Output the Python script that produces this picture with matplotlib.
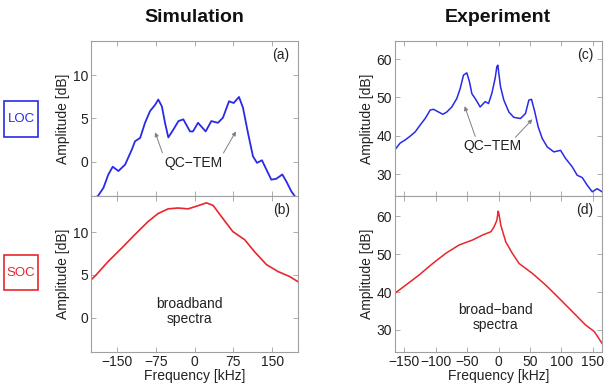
import matplotlib
matplotlib.use("Agg")
import matplotlib.pyplot as plt
from matplotlib.patches import Rectangle

plt.rcParams['font.family'] = ['Liberation Sans', 'DejaVu Sans']

# ---- data ----
sim_loc_f = [-200, -186, -176, -166.5, -158, -147, -134, -121, -115, -105, -95.6, -86,
             -76, -70, -63, -57, -50.6, -41, -31, -21.6, -8.7, -3, 1, 6.8, 21.6, 32.5,
             45.4, 55, 66.7, 75.7, 86, 93.7, 103.4, 113, 120.8, 130.4, 138.7, 148.4,
             158, 169.7, 177.4, 187, 193.6, 200]
sim_loc_a = [-4.6, -3.95, -3.06, -1.5, -0.6, -1.1, -0.35, 1.4, 2.35, 2.75, 4.5, 5.85,
             6.6, 7.2, 6.4, 4.5, 2.8, 3.7, 4.7, 4.9, 3.5, 3.5, 3.9, 4.5, 3.5, 4.7,
             4.5, 5.1, 7.0, 6.8, 7.5, 6.25, 3.3, 0.6, -0.15, 0.15, -0.9, -2.1,
             -2.0, -1.5, -2.3, -3.45, -4.0, -4.6]

sim_soc_f = [-200, -190, -167, -141, -116, -90, -70.5, -51, -32, -12.5, 3.5, 23, 36, 52,
             74, 97, 116, 139, 161, 184, 200]
sim_soc_a = [4.4, 5.0, 6.55, 8.1, 9.65, 11.2, 12.15, 12.7, 12.8, 12.7, 13.0, 13.4, 13.1,
             11.8, 10.05, 9.1, 7.7, 6.2, 5.4, 4.8, 4.2]

exp_loc_f = [-165, -156.8, -148.8, -140.8, -132.9, -124.9, -116.9, -108.9, -103.7,
             -95.7, -88.8, -82.4, -74.5, -66.5, -61.1, -55.8, -50.5, -46.3, -42.5,
             -35.6, -29.2, -21.2, -15.9, -10.7, -5.3, -2.7, -1.0, 0.5, 3.2, 8.5,
             16.5, 24.4, 35.1, 43, 48.4, 52.6, 57.9, 63.3, 69.7, 77.7, 88.2, 98.9,
             106.9, 117.5, 125.5, 133.5, 141.5, 149.4, 157.4, 165]
exp_loc_a = [36.4, 38.1, 38.9, 39.9, 41.0, 42.8, 44.5, 46.7, 46.9,
             46.2, 45.6, 46.2, 47.5, 49.7, 52.3, 55.8, 56.4, 54.1, 51.0,
             49.3, 47.5, 48.9, 48.4, 51.0, 55.0, 58.0, 58.4, 56.3, 52.8, 49.3,
             46.2, 44.8, 44.5, 45.8, 49.3, 49.5, 46.2, 42.3, 39.3, 37.1, 35.8, 36.2,
             34.1, 31.9, 29.7, 29.1, 27.1, 25.4, 26.2, 25.4]

exp_soc_f = [-165, -148, -126.5, -105, -84, -62.7, -41.5, -25.5, -12, -7, -2.6, -0.5,
             1, 3.7, 11.6, 22, 33, 54, 75.5, 97, 118, 139, 152.6, 165]
exp_soc_a = [39.7, 41.8, 44.5, 47.5, 50.2, 52.4, 53.7, 55.0, 55.9, 57.2, 58.9, 61.3,
             60.3, 57.6, 53.2, 50.2, 47.5, 44.9, 41.8, 38.3, 34.8, 31.3, 29.6, 26.5]

sim_xticks = [-150, -75, 0, 75, 150]
exp_xticks = [-150, -100, -50, 0, 50, 100, 150]
sim_yticks = [0, 5, 10]
exp_yticks = [30, 40, 50, 60]

BLUE = '#2a2ae6'
RED = '#e8262c'
SPINE = '#a0a0a0'
TXT = '#222222'

fig = plt.figure(figsize=(6.14, 3.89), dpi=100)

L0, R0, W = 91/614, 395/614, 207/614
TB, TH = 1 - 196/389, 155/389
BB, BH = 1 - 352/389, 156/389

axA = fig.add_axes([L0, TB, W, TH])
axB = fig.add_axes([L0, BB, W, BH])
axC = fig.add_axes([R0, TB, W, TH])
axD = fig.add_axes([R0, BB, W, BH])

def style(ax, xticks, yticks, xlim, ylim, showx):
    ax.set_xlim(*xlim)
    ax.set_ylim(*ylim)
    ax.set_xticks(xticks)
    ax.set_yticks(yticks)
    ax.tick_params(direction='in', length=3.5, width=0.6, color=SPINE,
                   top=True, right=True, labelsize=10, labelcolor=TXT, pad=2)
    for s in ax.spines.values():
        s.set_color(SPINE)
        s.set_linewidth(0.8)
    if showx:
        ax.set_xticklabels([f"{t}".replace('-', '\u2212') for t in xticks])
        ax.set_xlabel('Frequency [kHz]', fontsize=10, color=TXT, labelpad=0)
    else:
        ax.set_xticklabels([])
    ax.set_ylabel('Amplitude [dB]', fontsize=10, color=TXT, labelpad=2)

axA.plot(sim_loc_f, sim_loc_a, color=BLUE, lw=1.3)
axB.plot(sim_soc_f, sim_soc_a, color=RED, lw=1.2)
axC.plot(exp_loc_f, exp_loc_a, color=BLUE, lw=1.1)
axD.plot(exp_soc_f, exp_soc_a, color=RED, lw=1.1)

style(axA, sim_xticks, sim_yticks, (-200, 200), (-4, 14), False)
style(axB, sim_xticks, sim_yticks, (-200, 200), (-4, 14.2), True)
style(axC, exp_xticks, exp_yticks, (-165, 165), (24.3, 64.7), False)
style(axD, exp_xticks, exp_yticks, (-165, 165), (24.2, 65.3), True)

for ax, lab in [(axA, '(a)'), (axB, '(b)'), (axC, '(c)'), (axD, '(d)')]:
    ax.text(0.96, 0.91, lab, transform=ax.transAxes, ha='right', va='center',
            fontsize=10, color=TXT)

arrow = dict(arrowstyle='-|>', color='#808080', lw=0.7, mutation_scale=6,
             shrinkA=0, shrinkB=0)
axA.text(-3, -0.2, 'QC\u2212TEM', ha='center', va='center', fontsize=10, color=TXT)
axA.annotate('', xy=(-76, 3.4), xytext=(-62, 1.0), arrowprops=arrow)
axA.annotate('', xy=(80, 3.5), xytext=(56, 1.0), arrowprops=arrow)

axB.text(-9, 0.7, 'broadband\nspectra', ha='center', va='center', fontsize=10,
         color=TXT, linespacing=1.1)

axC.text(-10, 37.3, 'QC\u2212TEM', ha='center', va='center', fontsize=10, color=TXT)
axC.annotate('', xy=(-54, 47.7), xytext=(-37, 39.8), arrowprops=arrow)
axC.annotate('', xy=(54, 44.3), xytext=(27, 39.6), arrowprops=arrow)

axD.text(-5, 33.2, 'broad\u2212band\nspectra', ha='center', va='center', fontsize=10,
         color=TXT, linespacing=1.1)

fig.text(194/614, 1 - 17/389, 'Simulation', ha='center', va='center',
         fontsize=14, fontweight='bold', color='#111111')
fig.text(498/614, 1 - 17/389, 'Experiment', ha='center', va='center',
         fontsize=14, fontweight='bold', color='#111111')

for (y0, h, txt, col) in [(1 - 137/389, 36/389, 'LOC', BLUE),
                          (1 - 290/389, 35/389, 'SOC', RED)]:
    fig.add_artist(Rectangle((4/614, y0), 34/614, h, transform=fig.transFigure,
                             fill=False, edgecolor=col, lw=1.2))
    fig.text(21/614, y0 + h/2, txt, ha='center', va='center', fontsize=9.5, color=col)

fig.savefig('out.png', dpi=100)
